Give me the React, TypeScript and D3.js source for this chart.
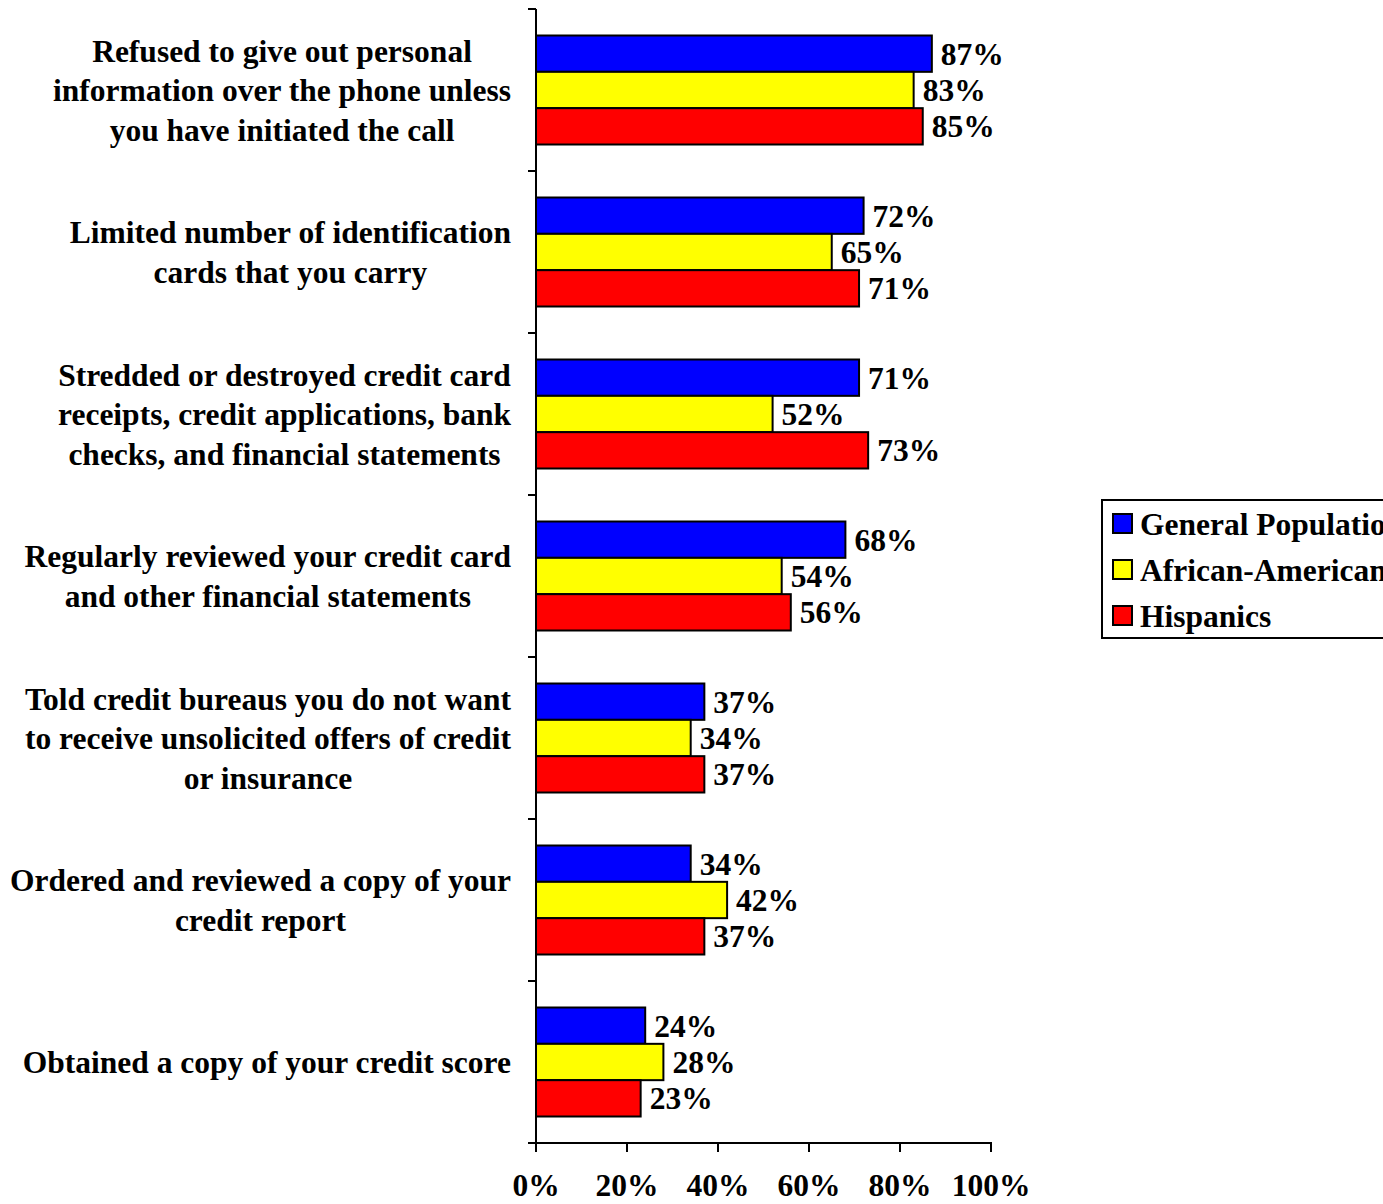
import React, { useEffect, useRef } from "react";
import * as d3 from "d3";

const categories: string[][] = [
  ["Refused to give out personal", "information over the phone unless", "you have initiated the call"],
  ["Limited number of identification", "cards that you carry"],
  ["Stredded or destroyed credit card", "receipts, credit applications, bank", "checks, and financial statements"],
  ["Regularly reviewed your credit card", "and other financial statements"],
  ["Told credit bureaus you do not want", "to receive unsolicited offers of credit", "or insurance"],
  ["Ordered and reviewed a copy of your", "credit report"],
  ["Obtained a copy of your credit score"],
];
const seriesNames = ["General Population", "African-Americans", "Hispanics"];
const seriesColors = ["#0000FF", "#FFFF00", "#FF0000"];
const generalPopulation = [87, 72, 71, 68, 37, 34, 24];
const africanAmericans = [83, 65, 52, 54, 34, 42, 28];
const hispanics = [85, 71, 73, 56, 37, 37, 23];
const xTicks = [0, 20, 40, 60, 80, 100];

const FONT = "'Liberation Serif', 'Times New Roman', serif";
const FS = 31.5;

export default function App() {
  const ref = useRef<SVGSVGElement>(null);
  useEffect(() => {
    const svg = d3.select(ref.current);
    svg.selectAll("*").remove();
    const seriesValues = [generalPopulation, africanAmericans, hispanics];
    const x0 = 536, x1 = 991, yTop = 9, yBot = 1143;
    const x = d3.scaleLinear().domain([0, 100]).range([x0, x1]);
    const y = d3.scaleBand<number>().domain(categories.map((_, i) => i)).range([yTop, yBot]);
    const inner = d3.scaleBand<number>().domain([0, 1, 2]).range([26.5, y.bandwidth() - 26.5]);

    const g = svg.append("g").attr("font-family", FONT).attr("font-weight", "bold");

    // bars
    categories.forEach((_, ci) => {
      seriesValues.forEach((vals, si) => {
        const yy = (y(ci) as number) + (inner(si) as number);
        g.append("rect")
          .attr("x", x(0))
          .attr("y", yy)
          .attr("width", x(vals[ci]) - x(0))
          .attr("height", inner.bandwidth())
          .attr("fill", seriesColors[si])
          .attr("stroke", "#000")
          .attr("stroke-width", 2);
        g.append("text")
          .attr("x", x(vals[ci]) + 9)
          .attr("y", yy + inner.bandwidth() / 2)
          .attr("dy", "0.35em")
          .attr("font-size", FS)
          .text(`${vals[ci]}%`);
      });
    });

    // axes
    g.append("line").attr("x1", x0).attr("x2", x0).attr("y1", yTop).attr("y2", yBot)
      .attr("stroke", "#000").attr("stroke-width", 2);
    g.append("line").attr("x1", x0 - 8).attr("x2", x1 + 1).attr("y1", yBot).attr("y2", yBot)
      .attr("stroke", "#000").attr("stroke-width", 2);
    const yTickPos = categories.map((_, i) => y(i) as number).concat([yBot]);
    yTickPos.forEach((p) => {
      g.append("line").attr("x1", x0 - 8).attr("x2", x0).attr("y1", p).attr("y2", p)
        .attr("stroke", "#000").attr("stroke-width", 2);
    });
    xTicks.forEach((t) => {
      g.append("line").attr("x1", x(t)).attr("x2", x(t)).attr("y1", yBot).attr("y2", yBot + 9)
        .attr("stroke", "#000").attr("stroke-width", 2);
      g.append("text").attr("x", x(t)).attr("y", 1196)
        .attr("text-anchor", "middle").attr("font-size", FS).text(`${t}%`);
    });

    // category labels
    const lineH = 39.5;
    categories.forEach((lines, ci) => {
      const cy = (y(ci) as number) + y.bandwidth() / 2;
      const texts = lines.map((l, li) =>
        g.append("text")
          .attr("y", cy + (li - (lines.length - 1) / 2) * lineH)
          .attr("dy", "0.35em")
          .attr("font-size", FS)
          .attr("text-anchor", "middle")
          .text(l)
      );
      const maxW = d3.max(texts, (t) => (t.node() as SVGTextElement).getComputedTextLength()) || 0;
      texts.forEach((t) => t.attr("x", 511 - maxW / 2));
    });

    // legend
    const lg = g.append("g");
    lg.append("rect").attr("x", 1102).attr("y", 500).attr("width", 330).attr("height", 138)
      .attr("fill", "#fff").attr("stroke", "#000").attr("stroke-width", 2);
    seriesNames.forEach((n, i) => {
      const cy = 524 + i * 46;
      lg.append("rect").attr("x", 1113).attr("y", cy - 10).attr("width", 19).attr("height", 19)
        .attr("fill", seriesColors[i]).attr("stroke", "#000").attr("stroke-width", 2);
      lg.append("text").attr("x", 1140).attr("y", cy).attr("dy", "0.35em")
        .attr("font-size", FS).text(n);
    });
  }, []);
  return (
    <svg
      ref={ref}
      width={1383}
      height={1204}
      style={{ position: "absolute", left: 0, top: 0, background: "#fff" }}
    />
  );
}
